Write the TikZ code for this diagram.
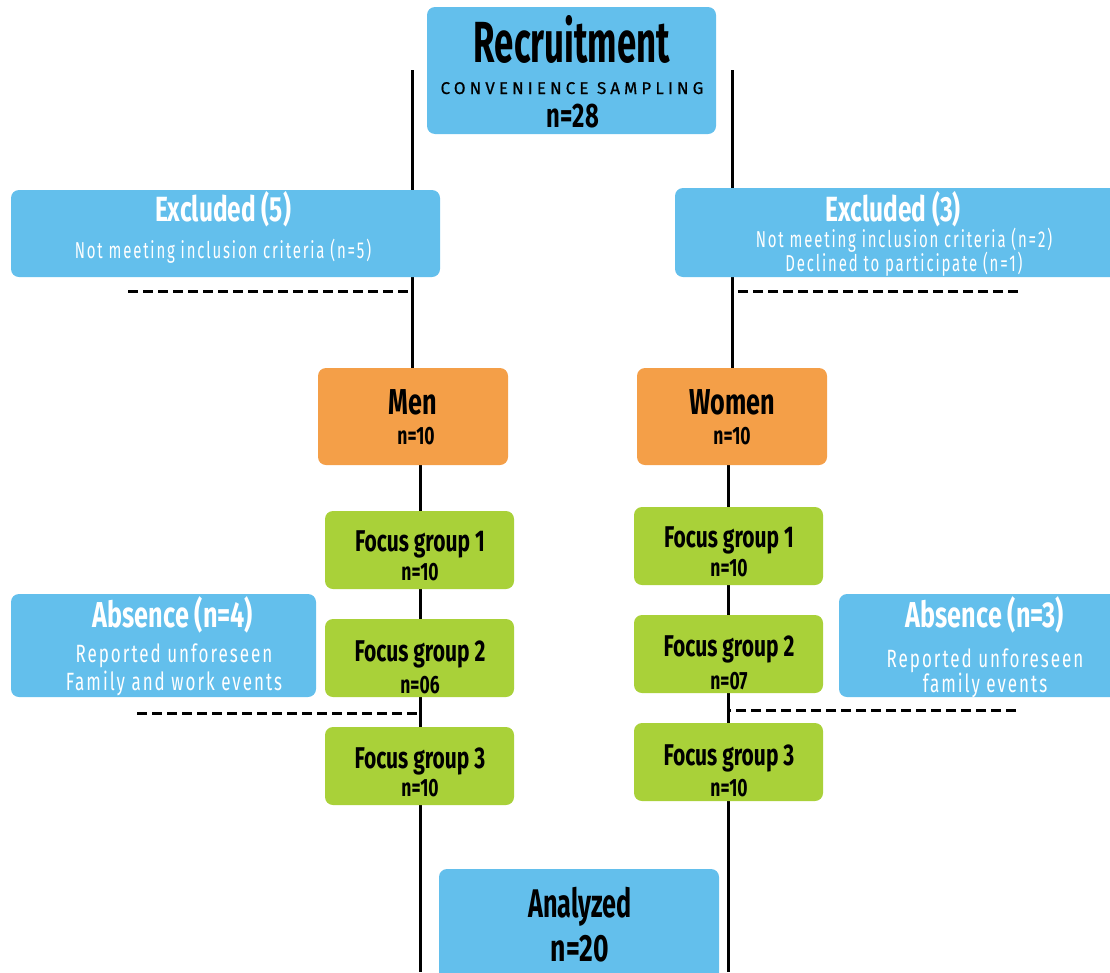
\documentclass[tikz,border=0pt]{standalone}
\usepackage{fontspec}
\usetikzlibrary{backgrounds}
\newfontfamily\condB[FakeStretch=0.6]{Fira Sans}
\newfontfamily\condBw[FakeStretch=0.7]{Fira Sans}
\newfontfamily\condBa[FakeStretch=0.63]{Fira Sans}
\newfontfamily\condR[FakeStretch=0.65,LetterSpace=8]{Fira Sans}
\newfontfamily\condRw[FakeStretch=0.68,LetterSpace=8]{Fira Sans}
\newfontfamily\wideR[LetterSpace=24,FakeBold=0.6]{Fira Sans}
\definecolor{cblue}{HTML}{63BFEC}
\definecolor{corange}{HTML}{F49F48}
\definecolor{cgreen}{HTML}{A9D139}
\begin{document}
\begin{tikzpicture}[x=1pt,y=-1pt,
  box/.style={rounded corners=8pt, inner sep=0pt, draw=none},
  bluebox/.style={box, fill=cblue},
  orbox/.style={box, fill=corange, minimum width=190, minimum height=97},
  grbox/.style={box, fill=cgreen, minimum width=189, minimum height=78},
  ttl/.style={anchor=base, inner sep=0pt, font=\condBw\bfseries\fontsize{#1}{#1}\selectfont},
  wttl/.style={ttl=#1, text=white},
  num/.style={anchor=base, inner sep=0pt, font=\condBw\bfseries\fontsize{#1}{#1}\selectfont},
  sub/.style={anchor=base, inner sep=0pt, text=white, font=\condR\fontsize{#1}{#1}\selectfont},
  subw/.style={anchor=base, inner sep=0pt, text=white, font=\condRw\fontsize{#1}{#1}\selectfont},
  vline/.style={line width=3pt, black},
  dline/.style={line width=3pt, black, dash pattern=on 10pt off 5pt}
]
\useasboundingbox (0,0) rectangle (1110,972);
\clip (0,0) rectangle (1110,972);

% boxes
\node[bluebox, minimum width=289, minimum height=127] (rec) at (571.5,70.5) {};
\node[bluebox, minimum width=429, minimum height=87] (exl) at (225.5,233.5) {};
\node[bluebox, minimum width=455, minimum height=89] (exr) at (902.5,232.5) {};
\node[orbox] (men) at (413,416.5) {};
\node[orbox] (women) at (732,416.5) {};
\node[grbox] (fg1l) at (419.5,550) {};
\node[grbox] (fg2l) at (419.5,658) {};
\node[grbox] (fg3l) at (419.5,766) {};
\node[grbox] (fg1r) at (728.5,546) {};
\node[grbox] (fg2r) at (728.5,654) {};
\node[grbox] (fg3r) at (728.5,762) {};
\node[bluebox, minimum width=305, minimum height=103] (abl) at (163.5,645.5) {};
\node[bluebox, minimum width=300, minimum height=103] (abr) at (989,645.5) {};
\node[bluebox, minimum width=280, minimum height=125] (ana) at (579,931.5) {};

% connectors
\begin{scope}[on background layer]
\coordinate (lt) at (412,70);
\coordinate (rt) at (732,70);
\coordinate (lb) at (420,972);
\coordinate (rb) at (728,972);
\draw[vline] (lt) -- (lt |- men.north);
\draw[vline] (rt) -- (rt |- women.north);
\draw[vline] (lb |- men.south) -- (lb);
\draw[vline] (rb |- women.south) -- (rb);
\coordinate (d1) at (128,291);
\coordinate (d2) at (1018,291);
\coordinate (d3) at (137,713);
\coordinate (d4) at (1016,710);
\draw[dline] (d1) -- (d1 -| lt);
\draw[dline] (d2) -- (d2 -| rt);
\draw[dline] (d3) -- (d3 -| lb);
\draw[dline] (d4) -- (d4 -| rb);
\end{scope}

% texts
\node[anchor=base, inner sep=0pt, font=\condB\bfseries\fontsize{58}{58}\selectfont] (rec-a) at (572,62) {Recruitment};
\node[anchor=base, inner sep=0pt, font=\wideR\fontsize{17}{17}\selectfont] (rec-b) at (572,94) {CONVENIENCE SAMPLING};
\node[num=34] (rec-c) at (573,127) {n=28};

\node[wttl=35] (exl-a) at (223,221) {Excluded (5)};
\node[sub=23] (exl-b) at (223,258) {Not meeting inclusion criteria (n=5)};

\node[wttl=35] (exr-a) at (893,221) {Excluded (3)};
\node[sub=23] (exr-b) at (904,247) {Not meeting inclusion criteria (n=2)};
\node[sub=23] (exr-c) at (904,271) {Declined to participate (n=1)};

\node[ttl=36] (men-a) at (413,414) {Men};
\node[num=25] (men-b) at (416,444) {n=10};
\node[ttl=36] (women-a) at (732,414) {Women};
\node[num=25] (women-b) at (732,444) {n=10};

\node[ttl=30] (fg1l-a) at (420,551) {Focus group 1};
\node[num=25] (fg1l-b) at (420,580) {n=10};
\node[ttl=30] (fg2l-a) at (420,661) {Focus group 2};
\node[num=25] (fg2l-b) at (420,693) {n=06};
\node[ttl=30] (fg3l-a) at (420,768) {Focus group 3};
\node[num=25] (fg3l-b) at (420,796) {n=10};

\node[ttl=30] (fg1r-a) at (729,547) {Focus group 1};
\node[num=25] (fg1r-b) at (729,576) {n=10};
\node[ttl=30] (fg2r-a) at (729,656) {Focus group 2};
\node[num=25] (fg2r-b) at (729,689) {n=07};
\node[ttl=30] (fg3r-a) at (729,765) {Focus group 3};
\node[num=25] (fg3r-b) at (729,796) {n=10};

\node[wttl=36] (abl-a) at (173,627) {Absence (n=4)};
\node[subw=25] (abl-b) at (174,662) {Reported unforeseen};
\node[subw=25] (abl-c) at (174,690) {Family and work events};

\node[wttl=36] (abr-a) at (985,627) {Absence (n=3)};
\node[subw=25] (abr-b) at (985,667) {Reported unforeseen};
\node[subw=25] (abr-c) at (985,692) {family events};

\node[anchor=base, inner sep=0pt, font=\condBa\bfseries\fontsize{40}{40}\selectfont] (ana-a) at (580,917) {Analyzed};
\node[num=38] (ana-b) at (580,961) {n=20};
\end{tikzpicture}
\end{document}
